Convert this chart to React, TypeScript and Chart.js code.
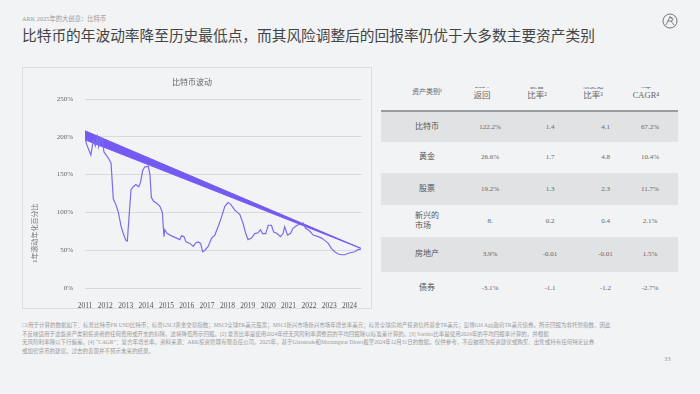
import React, { useEffect, useRef } from "react";
import { Chart, registerables } from "chart.js";

Chart.register(...registerables);

// ---------- chart data ----------
const volYears = [
  2011.0, 2011.08, 2011.2, 2011.29, 2011.41, 2011.51, 2011.61, 2011.67, 2011.77, 2011.85, 2011.93,
  2012.06, 2012.19, 2012.28, 2012.39, 2012.52, 2012.64, 2012.77, 2012.88, 2013.01, 2013.08,
  2013.18, 2013.26, 2013.37, 2013.5, 2013.64, 2013.73, 2013.83, 2013.93, 2014.11, 2014.19,
  2014.26, 2014.36, 2014.52, 2014.68, 2014.8, 2014.88, 2014.92, 2015.04, 2015.25, 2015.5,
  2015.66, 2015.74, 2015.86, 2015.96, 2016.15, 2016.32, 2016.45, 2016.56, 2016.68, 2016.78,
  2016.89, 2017.05, 2017.22, 2017.38, 2017.54, 2017.71, 2017.87, 2018.03, 2018.15, 2018.36,
  2018.61, 2018.77, 2018.9, 2019.01, 2019.18, 2019.34, 2019.5, 2019.62, 2019.72, 2019.88,
  2020.0, 2020.16, 2020.27, 2020.44, 2020.6, 2020.73, 2020.81, 2020.95, 2021.09, 2021.22,
  2021.42, 2021.63, 2021.72, 2021.84, 2021.95, 2022.05, 2022.21, 2022.46, 2022.62, 2022.78,
  2022.95, 2023.11, 2023.27, 2023.44, 2023.6, 2023.77, 2023.93, 2024.09, 2024.26, 2024.42, 2024.54,
];
const volatility = [
  198, 190, 182, 176, 196, 188, 200, 187, 198, 198, 180,
  175, 170, 165, 118, 110, 100, 82, 72, 63, 62,
  100, 130, 134, 137, 134, 140, 155, 160, 161, 150,
  120, 115, 112, 108, 100, 68, 77, 72, 69, 66,
  64, 69, 68, 61, 59, 55, 60, 61, 59, 48,
  50, 55, 66, 70, 81, 94, 108, 113, 111, 103,
  97, 85, 72, 64, 66, 72, 73, 77, 72, 72,
  83, 83, 74, 72, 68, 72, 81, 70, 72, 79,
  83, 85, 86, 79, 77, 75, 70, 68, 66, 63,
  59, 52, 48, 45, 44, 44, 46, 47, 48, 51, 51,
];
const trendYears = [2011.0, 2024.55];
const trendUpper = [208, 52.5];
const trendLower = [196, 52.5];

const xTickYears = [2011, 2012, 2013, 2014, 2015, 2016, 2017, 2018, 2019, 2020, 2021, 2022, 2023, 2024];
const yTickValues = [0, 50, 100, 150, 200, 250];

// ---------- table data ----------
const tableHeadTop = ["", "2024", "夏普", "索提诺", "5年"];
const tableHeadBottom = ["资产类别¹", "返回", "比率²", "比率³", "CAGR⁴"];
const assetClasses = ["比特币", "黄金", "股票", "新兴的\n市场", "房地产", "债券"];
const returns2024 = ["122.2%", "26.6%", "19.2%", "8.", "3.9%", "-3.1%"];
const sharpeRatios = ["1.4", "1.7", "1.3", "0.2", "-0.01", "-1.1"];
const sortinoRatios = ["4.1", "4.8", "2.3", "0.4", "-0.01", "-1.2"];
const cagr5y = ["67.2%", "10.4%", "11.7%", "2.1%", "1.5%", "-2.7%"];

const footnotes = [
  "□1用于计算的数据如下：标普比特币PR USD比特币；标普GSCI黄金交易指数；MSCI全球ER美元股票；MSCI新兴市场新兴市场年增长率美元；标普全球房地产投资信托基金TR美元；彭博Gbl Agg政府TR美元债券。所示回报为非托管指数，因此",
  "不反映适用于这些资产类别投资者的任何费用或开支的扣除，这将降低所示回报。[2] 夏普比率是使用2024年经无风险利率调整后的平均回报除以标准差计算的。[3] Sortino比率是使用2024年的平均回报率计算的，并根据",
  "无风险利率除以下行偏差。[4] “CAGR”：复合年增长率。资料来源：ARK投资管理有限责任公司，2025年，基于Glassnode和Morningstar Direct截至2024年12月31日的数据。仅供参考，不应被视为投资建议或购买、出售或持有任何特定证券",
  "或加密货币的建议。过去的表现并不预示未来的结果。",
];

const FONT = "'Liberation Serif', 'Noto Sans CJK SC', serif";
const BG = "#f2f3f5";
const BAND = "#e1e2e4";
const PURPLE_BAND = "#7559f3";
const PURPLE_LINE = "#7a6cef";

const yTitlePlugin = {
  id: "yTitle",
  afterDraw(chart: any) {
    const { ctx, chartArea } = chart;
    ctx.save();
    ctx.translate(chartArea.left - 50, chartArea.top + (chartArea.bottom - chartArea.top) * 0.71);
    ctx.rotate(-Math.PI / 2);
    ctx.font = `7px ${FONT}`;
    ctx.fillStyle = "#777";
    ctx.textAlign = "center";
    ctx.textBaseline = "middle";
    ctx.fillText("1年滚动年化百分比", 0, 0);
    ctx.restore();
  },
};

function VolChart() {
  const ref = useRef<HTMLCanvasElement | null>(null);
  useEffect(() => {
    if (!ref.current) return;
    const chart = new Chart(ref.current, {
      type: "line",
      data: {
        datasets: [
          {
            label: "vol",
            data: volYears.map((x, i) => ({ x, y: volatility[i] })),
            borderColor: PURPLE_LINE,
            borderWidth: 1.2,
            pointRadius: 0,
            tension: 0,
            fill: false,
            order: 0,
          },
          {
            label: "upper",
            data: trendYears.map((x, i) => ({ x, y: trendUpper[i] })),
            borderColor: PURPLE_BAND,
            borderWidth: 1,
            pointRadius: 0,
            fill: false,
            order: 1,
          },
          {
            label: "lower",
            data: trendYears.map((x, i) => ({ x, y: trendLower[i] })),
            borderColor: PURPLE_BAND,
            backgroundColor: PURPLE_BAND,
            borderWidth: 1,
            pointRadius: 0,
            fill: "-1",
            order: 1,
          },
        ],
      },
      options: {
        animation: false,
        responsive: false,
        devicePixelRatio: 1,
        layout: { padding: { left: 0, right: 9, top: 0, bottom: 0 } },
        plugins: {
          legend: { display: false },
          tooltip: { enabled: false },
          title: {
            display: true,
            text: "比特币波动",
            color: "#666",
            font: { family: FONT, size: 8, weight: "normal" },
            padding: { top: 11, bottom: 11.4 },
          },
        },
        scales: {
          x: {
            type: "linear",
            min: 2011,
            max: 2024.6,
            grid: { display: false, drawTicks: false },
            border: { display: false },
            afterBuildTicks: (scale: any) => {
              scale.ticks = xTickYears.map((v) => ({ value: v }));
            },
            afterFit: (scale: any) => {
              scale.height = 24;
            },
            ticks: {
              color: "#555",
              font: { family: FONT, size: 7.5 },
              padding: 13.5,
              maxRotation: 0,
              autoSkip: false,
              callback: (v: any) => String(v),
            },
          },
          y: {
            min: 0,
            max: 250,
            grid: { color: "#d9dadc", lineWidth: 1, drawTicks: false },
            border: { display: false },
            afterBuildTicks: (scale: any) => {
              scale.ticks = yTickValues.map((v) => ({ value: v }));
            },
            afterFit: (scale: any) => {
              scale.width = 63;
            },
            ticks: {
              color: "#666",
              font: { family: FONT, size: 7 },
              padding: 12,
              callback: (v: any) => v + "%",
            },
          },
        },
      },
      plugins: [yTitlePlugin],
    } as any);
    return () => chart.destroy();
  }, []);
  return (
    <canvas
      ref={ref}
      width={349}
      height={245}
      style={{ position: "absolute", left: 22, top: 67, width: 349, height: 245 }}
    />
  );
}

const colCentersHead = [427, 482, 537, 593, 646];
const colCentersVal = [427, 490, 550, 605.5, 650];
const rowTops = [111.7, 141.7, 173.3, 205, 236.7, 271.7];
const rowHeights = [30, 31.6, 31.7, 31.7, 35, 33.3];

function Table() {
  const cols = [returns2024, sharpeRatios, sortinoRatios, cagr5y];
  return (
    <>
      <div
        style={{
          position: "absolute",
          left: colCentersHead[0] - 40,
          width: 80,
          top: 86.5,
          textAlign: "center",
          fontSize: 7,
          lineHeight: "10px",
          color: "#666",
          whiteSpace: "nowrap",
        }}
      >
        {tableHeadBottom[0]}
      </div>
      {tableHeadBottom.slice(1).map((t, i) => (
        <div
          key={"h" + i}
          style={{
            position: "absolute",
            left: colCentersHead[i + 1] - 30,
            width: 60,
            top: 86.7,
            height: 16,
            overflow: "hidden",
          }}
        >
          <div
            style={{
              position: "relative",
              top: -4.95,
              textAlign: "center",
              fontSize: 8.5,
              lineHeight: "9.5px",
              color: "#666",
              whiteSpace: "nowrap",
            }}
          >
            <div style={{ fontSize: 7 }}>{tableHeadTop[i + 1]}</div>
            <div>{t}</div>
          </div>
        </div>
      ))}
      <div style={{ position: "absolute", left: 381, width: 297, top: 110, height: 1.6, background: "#9c9c9c" }} />
      {assetClasses.map((name, r) => (
        <div
          key={"r" + r}
          style={{
            position: "absolute",
            left: 381,
            width: 297,
            top: rowTops[r],
            height: rowHeights[r],
            background: r % 2 === 0 ? BAND : "transparent",
          }}
        >
          <div
            style={{
              position: "absolute",
              left: colCentersVal[0] - 381 - 40,
              width: 80,
              top: 0,
              height: "100%",
              display: "flex",
              alignItems: "center",
              justifyContent: "center",
            }}
          >
            <div style={{ display: "inline-block", textAlign: "left", fontSize: 8, lineHeight: "10px", color: "#555", whiteSpace: "pre" }}>
              {name}
            </div>
          </div>
          {cols.map((col, c) => (
            <div
              key={"c" + c}
              style={{
                position: "absolute",
                left: colCentersVal[c + 1] - 381 - 30,
                width: 60,
                top: 0,
                height: "100%",
                display: "flex",
                alignItems: "center",
                justifyContent: "center",
                fontSize: 7,
                color: "#666",
                whiteSpace: "nowrap",
              }}
            >
              {col[r]}
            </div>
          ))}
        </div>
      ))}
    </>
  );
}

export default function App() {
  return (
    <div
      style={{
        position: "fixed",
        left: 0,
        top: 0,
        width: 700,
        height: 394,
        background: BG,
        fontFamily: FONT,
        overflow: "hidden",
      }}
    >
      <div style={{ position: "absolute", left: 22, top: 15, fontSize: 6.3, color: "#999", whiteSpace: "nowrap", lineHeight: "8px" }}>
        ARK 2025年的大创意：比特币
      </div>
      <div style={{ position: "absolute", left: 22, top: 26, fontSize: 14.7, color: "#444", whiteSpace: "nowrap", lineHeight: "20px" }}>
        比特币的年波动率降至历史最低点，而其风险调整后的回报率仍优于大多数主要资产类别
      </div>
      <svg style={{ position: "absolute", left: 662, top: 13 }} width={16} height={16} viewBox="0 0 16 16">
        <circle cx={8} cy={8} r={7} fill="none" stroke="#666" strokeWidth={0.9} />
        <path d="M4 12 L8 3.5 L9.5 6 M6 8 L10 8 Q12 6 10 4.5 L8.5 4.5 M9 8 L12 12" fill="none" stroke="#666" strokeWidth={0.8} />
      </svg>
      <div
        style={{
          position: "absolute",
          left: 22,
          top: 67,
          width: 348,
          height: 240,
          border: "1px solid #dcdde0",
        }}
      />
      <VolChart />
      <Table />
      {footnotes.map((t, i) => (
        <div
          key={"f" + i}
          style={{
            position: "absolute",
            left: 22,
            top: 321 + i * 8.5,
            fontSize: 5.5,
            lineHeight: "8px",
            color: "#9a9a9a",
            whiteSpace: "nowrap",
          }}
        >
          {t}
        </div>
      ))}
      <div style={{ position: "absolute", left: 664, top: 355, fontSize: 6.5, color: "#999", lineHeight: "8px" }}>33</div>
    </div>
  );
}
